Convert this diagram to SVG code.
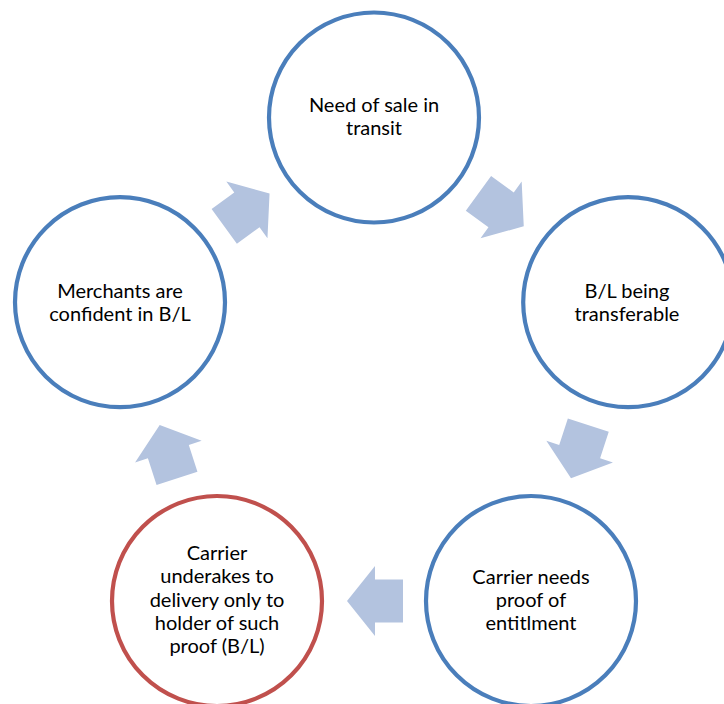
<svg xmlns="http://www.w3.org/2000/svg" width="724" height="704" viewBox="0 0 724 704">
<style>
.node{fill:#FFFFFF;stroke:#4A7EBB;stroke-width:4.2}
.red{stroke:#C0504D}
.lbl{font-family:Lato,"Liberation Sans",sans-serif;font-size:20px;fill:#000000;text-anchor:middle}
.arr{fill:#B3C3DF}
</style>
<defs>
<polygon id="arrow" points="-28,-21.5 0,-21.5 0,-35 28,0 0,35 0,21.5 -28,21.5"/>
</defs>
<rect width="724" height="704" fill="#FFFFFF"/>
<g id="connectors">
<use href="#arrow" class="arr" transform="translate(246.9,209.85) rotate(-36)"/>
<use href="#arrow" class="arr" transform="translate(501.1,209.85) rotate(36)"/>
<use href="#arrow" class="arr" transform="translate(579.65,451.65) rotate(108)"/>
<use href="#arrow" class="arr" transform="translate(375,601) rotate(180)"/>
<use href="#arrow" class="arr" transform="translate(168.35,451.65) rotate(-108)"/>
</g>
<g id="node-need-sale">
<circle class="node" cx="374" cy="117.5" r="105"/>
<text class="lbl" x="374" y="112">Need of sale in</text>
<text class="lbl" x="374" y="135">transit</text>
</g>
<g id="node-bl-transferable">
<circle class="node" cx="628.2" cy="302.2" r="105"/>
<text class="lbl" x="627" y="298">B/L being</text>
<text class="lbl" x="627" y="321">transferable</text>
</g>
<g id="node-carrier-needs">
<circle class="node" cx="531" cy="601" r="105"/>
<text class="lbl" x="531" y="584">Carrier needs</text>
<text class="lbl" x="531" y="607">proof of</text>
<text class="lbl" x="531" y="629.5">entitlment</text>
</g>
<g id="node-carrier-undertakes">
<circle class="node red" cx="217" cy="601" r="105"/>
<text class="lbl" x="217" y="560">Carrier</text>
<text class="lbl" x="217" y="583">underakes to</text>
<text class="lbl" x="217" y="606.5">delivery only to</text>
<text class="lbl" x="217" y="629.5">holder of such</text>
<text class="lbl" x="217" y="652.5">proof (B/L)</text>
</g>
<g id="node-merchants">
<circle class="node" cx="120" cy="302.2" r="105"/>
<text class="lbl" x="120" y="298">Merchants are</text>
<text class="lbl" x="120" y="321">confident in B/L</text>
</g>
</svg>
